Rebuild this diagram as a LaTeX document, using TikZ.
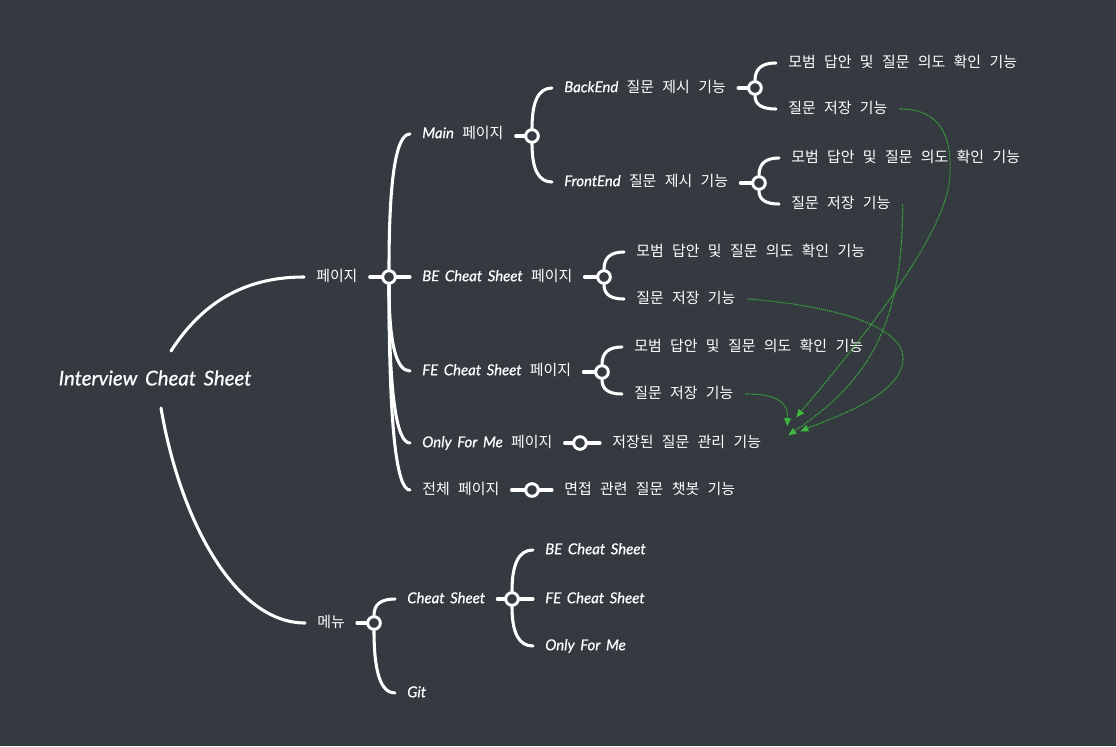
\documentclass[tikz,border=0pt]{standalone}
\usepackage{fontspec}
\setmainfont{Noto Sans CJK KR}[WordSpace=2.5]
\newfontfamily\enfont{Lato}[WordSpace=1.6,FakeBold=0.6]
\newcommand\en[1]{{\enfont\itshape #1}}
\usetikzlibrary{arrows.meta,calc}
\definecolor{board}{HTML}{343A40}
\definecolor{link}{HTML}{3CB93C}
\tikzset{
  topic/.style={anchor=west,text=white,font=\fontsize{11.2}{13}\selectfont,
    inner xsep=9pt,inner ysep=1pt,text height=8.5pt,text depth=2.2pt},
  hub/.style={circle,draw=white,fill=board,line width=2.2pt,minimum size=9.5pt,inner sep=0pt},
  limb/.style={white,line width=2.3pt,line cap=round},
  jump/.style={link,line width=0.8pt,dash pattern=on 0.8pt off 0.7pt,
    -{Triangle[length=6pt,width=5pt]}},
}
% hub anchor -> topic, bent like a brace
\newcommand\branch[2]{%
  \draw[limb] (#1) .. controls ($(#1)!.67!(#1 |- #2.west)$)
    and ($(#2.west)!.67!(#1 |- #2.west)$) .. (#2.west);}

\begin{document}
\begin{tikzpicture}[x=0.75pt,y=-0.75pt]
% Background
\fill[board] (0,0) rectangle (1116,746);
\useasboundingbox (0,0) rectangle (1116,746);
% Root
\node[text=white,font=\fontsize{15.3}{18}\selectfont] (root) at (155,378) {\en{Interview Cheat Sheet}};
\coordinate (root-up) at (171,351);
\coordinate (root-dn) at (161,408);
% Main topics
\node[topic] (p-page) at (304,277) {페이지};
\node[topic] (p-menu) at (305,623) {메뉴};
\draw[limb] (root-up) .. controls (205,298) and (250,277) .. (p-page.west);
\draw[limb] (root-dn) .. controls (180,520) and (235,623) .. (p-menu.west);
% Pages
\foreach \name/\x/\y/\txt in {m-main/410/134/{\en{Main} 페이지},
    m-be/410/277/{\en{BE Cheat Sheet} 페이지},
    m-fe/410/371/{\en{FE Cheat Sheet} 페이지},
    m-only/410/443/{\en{Only For Me} 페이지},
    m-all/410/490/{전체 페이지},
    b-back/552/88/{\en{BackEnd} 질문 제시 기능},
    b-front/552/182/{\en{FrontEnd} 질문 제시 기능}}
  \node[topic] (\name) at (\x,\y) {\txt};
% Leaves
\foreach \name/\x/\y/\txt in {l-back-a/776/63/{모범 답안 및 질문 의도 확인 기능},
    l-back-s/776/109/{질문 저장 기능},
    l-front-a/779/158/{모범 답안 및 질문 의도 확인 기능},
    l-front-s/779/204/{질문 저장 기능},
    l-be-a/624/252/{모범 답안 및 질문 의도 확인 기능},
    l-be-s/624/299/{질문 저장 기능},
    l-fe-a/622/347/{모범 답안 및 질문 의도 확인 기능},
    l-fe-s/622/394/{질문 저장 기능},
    l-keep/600/443/{저장된 질문 관리 기능},
    l-bot/552/490/{면접 관련 질문 챗봇 기능}}
  \node[topic] (\name) at (\x,\y) {\txt};
% Menu
\foreach \name/\x/\y/\txt in {n-cheat/395/599/{\en{Cheat Sheet}},
    n-git/395/693/{\en{Git}},
    n-be/533/550/{\en{BE Cheat Sheet}},
    n-fe/533/599/{\en{FE Cheat Sheet}},
    n-only/533/646/{\en{Only For Me}}}
  \node[topic] (\name) at (\x,\y) {\txt};
% Hubs
\foreach \name/\x/\y in {h-page/389/277, h-main/532/136, h-back/755/88, h-front/759/183,
    h-be/604/277, h-fe/602/372, h-only/580/443, h-all/532/490, h-menu/374/623, h-cheat/512/599}
  \node[hub] (\name) at (\x,\y) {};
% Topic -> hub
\foreach \a/\b in {p-page/h-page, m-main/h-main, b-back/h-back, b-front/h-front, m-be/h-be,
    m-fe/h-fe, m-only/h-only, m-all/h-all, p-menu/h-menu, n-cheat/h-cheat}
  \draw[limb] (\a.east |- \b.west) -- (\b.west);
% Hub -> children
\branch{h-page.north}{m-main}
\draw[limb] (h-page.east) -- (m-be.west);
\branch{h-page.south}{m-fe}
\branch{h-page.south}{m-only}
\branch{h-page.south}{m-all}
\branch{h-main.north}{b-back}
\branch{h-main.south}{b-front}
\branch{h-back.north}{l-back-a}
\branch{h-back.south}{l-back-s}
\branch{h-front.north}{l-front-a}
\branch{h-front.south}{l-front-s}
\branch{h-be.north}{l-be-a}
\branch{h-be.south}{l-be-s}
\branch{h-fe.north}{l-fe-a}
\branch{h-fe.south}{l-fe-s}
\draw[limb] (h-only.east) -- (l-keep.west);
\draw[limb] (h-all.east) -- (l-bot.west);
\branch{h-menu.north}{n-cheat}
\branch{h-menu.south}{n-git}
\branch{h-cheat.north}{n-be}
\draw[limb] (h-cheat.east) -- (n-fe.west);
\branch{h-cheat.south}{n-only}
% Saved questions -> 저장된 질문 관리 기능
\draw[jump] (l-back-s.east) .. controls +(40,0) and (952,135) .. (950,175)
  .. controls (948,230) and (870,330) .. ([shift={(23,-17)}]l-keep.north east);
\draw[jump] (l-front-s.east) .. controls +(0,120) and (870,380) .. ([shift={(15,1)}]l-keep.north east);
\draw[jump] (l-be-s.east) .. controls +(100,8) and (905,330) .. (903,360)
  .. controls (900,395) and (840,415) .. ([shift={(27,-3)}]l-keep.north east);
\draw[jump] (l-fe-s.east) .. controls +(30,0) and +(1,-25) .. ([shift={(14,-8)}]l-keep.north east);
\end{tikzpicture}
\end{document}
